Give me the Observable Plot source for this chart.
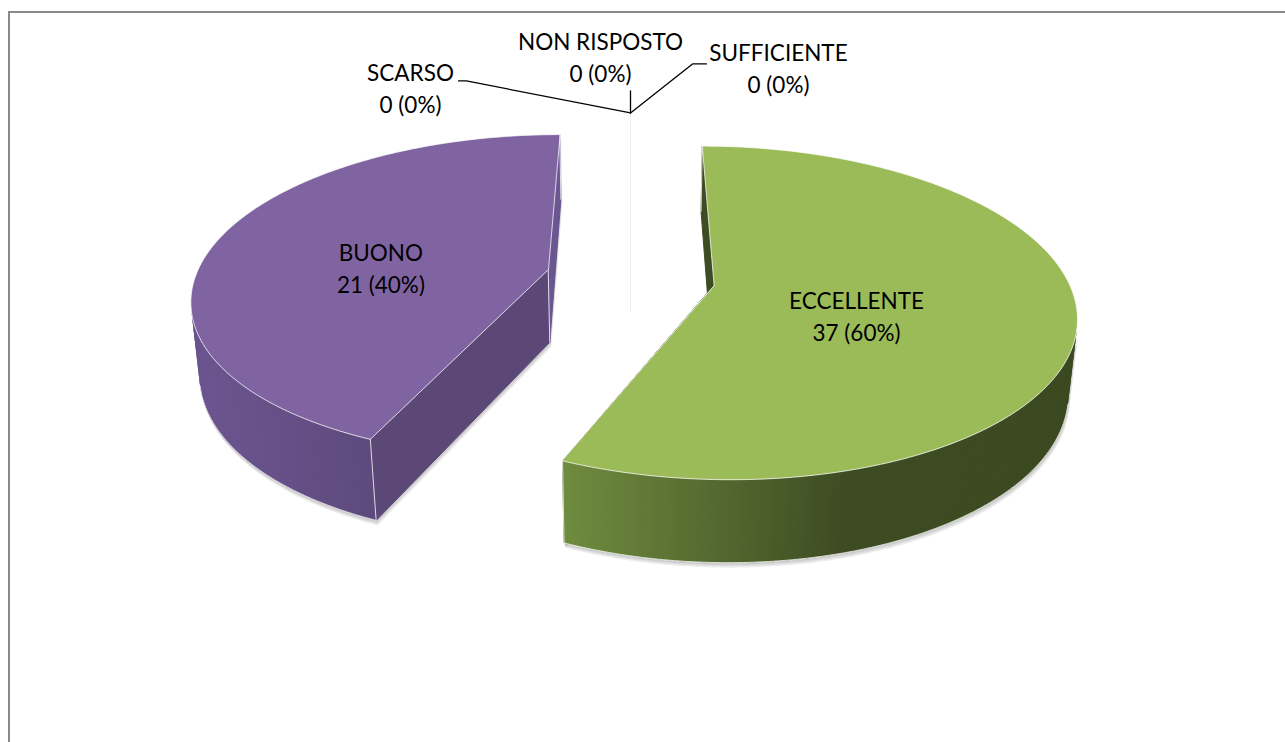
<!DOCTYPE html>
<html><head><meta charset="utf-8">
<script src="https://cdn.jsdelivr.net/npm/d3@7"></script>
<script src="https://cdn.jsdelivr.net/npm/@observablehq/plot@0.6"></script>
<style>
html,body{margin:0;padding:0;background:#fff;overflow:hidden;}
#wrap{position:relative;width:1285px;height:742px;overflow:hidden;background:#fff;}
#chart{position:absolute;left:0;top:0;}
#frame{position:absolute;left:8px;top:11px;width:1400px;height:900px;border:2px solid #898989;box-sizing:border-box;pointer-events:none;}
</style></head><body>
<div id="wrap"><div id="chart"></div><div id="frame"></div></div>
<script>
// ---- data ----
const categories = ["ECCELLENTE", "BUONO", "NON RISPOSTO", "SCARSO", "SUFFICIENTE"];
const counts = [37, 21, 0, 0, 0];
const percentLabels = ["60%", "40%", "0%", "0%", "0%"];
const sliceShares = [56.5, 43.5, 0, 0, 0]; // slice sizes as drawn in the picture

// ---- styles ----
const topColors = ["#9BBB59", "#8064A2", "#f2f2f2", "#f2f2f2", "#f2f2f2"];
const sideStops = [
  [[0, "#6F8C3F"], [0.55, "#3E4C23"], [1, "#3C4A22"]],
  [[0, "#6C5691"], [0.5, "#5D4A7C"], [1, "#5D4A7C"]],
  null, null, null
];
const wallColors = [["#3E4C23", "#3E4C23"], ["#5C4877", "#6A5690"], ["#f0f0f0","#f0f0f0"], ["#f0f0f0","#f0f0f0"], ["#f0f0f0","#f0f0f0"]];
const shadowOffsets = [2, 3.5, 5];

// ---- 3D view ----
const view = {cx: 630, cy: 277, focal: 1920, dist: 5.44, elev: 26.9 * Math.PI / 180, depth: 0.236, explode: 0.24};
const ce = Math.cos(view.elev), se = Math.sin(view.elev);
function project(X, Y, Z) {
  const d = Y * ce - Z * se + view.dist;
  const up = Y * se + Z * ce;
  return [view.cx + view.focal * X / d, view.cy - view.focal * up / d];
}
const TAU = 2 * Math.PI;
const total = d3.sum(sliceShares);
let cum = 0;
const slices = categories.map((name, i) => {
  const a0 = cum / total * TAU; cum += sliceShares[i]; const a1 = cum / total * TAU;
  const mid = (a0 + a1) / 2;
  return {i, name, a0, a1, mid, ox: view.explode * Math.sin(mid), oy: view.explode * Math.cos(mid)};
});
const rim = (s, t, z) => project(s.ox + Math.sin(t), s.oy + Math.cos(t), z);
const ctr = (s, z) => project(s.ox, s.oy, z);
// does the outer side at angle t face the camera?
const faces = (s, t) => -(s.ox + Math.sin(t)) * Math.sin(t) - (view.dist * ce + s.oy + Math.cos(t)) * Math.cos(t) > 0;
const ZB = -view.depth;
const step = Math.PI / 360;

const tops = [], sides = [], bands = [], walls = [], outlines = [], shadows = [];
const push = (arr, id, pts, color) => pts.forEach(([x, y]) => arr.push({id, x, y, color}));

slices.forEach(s => {
  const n = Math.max(1, Math.ceil((s.a1 - s.a0) / step));
  const angles = d3.range(n + 1).map(k => s.a0 + (s.a1 - s.a0) * k / n);
  [s.a0, s.a1].forEach((t, w) => {
    const quad = [ctr(s, 0), rim(s, t, 0), rim(s, t, ZB), ctr(s, ZB)];
    push(walls, `w${s.i}-${w}`, quad, wallColors[s.i][w]);
    if (sliceShares[s.i] > 0) shadowOffsets.forEach((o, j) => push(shadows, `hw${s.i}-${w}-${j}`, quad.map(([x, y]) => [x + o * 0.3, y + o]), "#000"));
  });
  if (sliceShares[s.i] === 0) return;
  const xs = angles.map(t => rim(s, t, 0)[0]);
  const xmin = d3.min(xs), xmax = d3.max(xs);
  const st = sideStops[s.i];
  const shade = d3.scaleLinear().domain(st.map(d => d[0])).range(st.map(d => d[1])).interpolate(d3.interpolateRgb);
  const runs = [];
  let cur = null;
  for (let k = 0; k < n; k++) {
    const ok = faces(s, (angles[k] + angles[k + 1]) / 2);
    if (ok) { if (!cur) { cur = [k]; runs.push(cur); } cur.push(k + 1); }
    else cur = null;
  }
  runs.forEach((run, r) => {
    const topArc = run.map(k => rim(s, angles[k], 0));
    const botArc = run.map(k => rim(s, angles[k], ZB));
    const band = [...topArc, ...botArc.slice().reverse()];
    push(bands, `band${s.i}-${r}`, band, shade(0.5));
    shadowOffsets.forEach((o, j) => push(shadows, `hs${s.i}-${r}-${j}`, band.map(([x, y]) => [x + o * 0.3, y + o]), "#000"));
    for (let m = 0; m < run.length - 1; m++) {
      const ka = run[m], kb = run[Math.min(m + 2, run.length - 1)];
      const pa = rim(s, angles[ka], 0), pb = rim(s, angles[run[m + 1]], 0);
      const tmid = ((pa[0] + pb[0]) / 2 - xmin) / (xmax - xmin);
      push(sides, `s${s.i}-${r}-${m}`, [pa, rim(s, angles[kb], 0), rim(s, angles[kb], ZB), rim(s, angles[ka], ZB)], shade(tmid));
    }
    push(outlines, `b${s.i}-${r}`, botArc, "#fff");
  });
  push(outlines, `c${s.i}a`, [rim(s, s.a0, 0), rim(s, s.a0, ZB)], "#fff");
  push(outlines, `c${s.i}b`, [rim(s, s.a1, 0), rim(s, s.a1, ZB)], "#fff");
  push(outlines, `d${s.i}a`, [ctr(s, 0), ctr(s, ZB)], "#fff");
  push(tops, `t${s.i}`, [ctr(s, 0), ...angles.map(t => rim(s, t, 0))], topColors[s.i]);
});

// ---- labels ----
const labelLayout = [
  {r: 0.40, dy: 16}, {r: 0.50, dy: 13},
  {dx: -30, dy: -57.5, leader: [[0, -22]]},
  {dx: -220, dy: -26.5, leader: [[-164, -32], [-172, -32]]},
  {dx: 148, dy: -46, leader: [[62, -49], [76, -49]]}
];
const labels = [], leaders = [];
slices.forEach(s => {
  const L = labelLayout[s.i];
  const text = `${categories[s.i]}\n${counts[s.i]} (${percentLabels[s.i]})`;
  if (sliceShares[s.i] > 0) {
    const [x, y] = project(s.ox + L.r * Math.sin(s.mid), s.oy + L.r * Math.cos(s.mid), 0);
    labels.push({x, y: y + L.dy, text});
  } else {
    const [ax, ay] = rim(s, s.a1, 0);
    labels.push({x: ax + L.dx, y: ay + L.dy, text});
    [[0, 0], ...L.leader].forEach(([dx, dy]) => leaders.push({id: s.i, x: ax + dx, y: ay + dy}));
  }
});

const W = 1285, H = 742;
const chart = Plot.plot({
  width: W, height: H, margin: 0,
  x: {domain: [0, W], range: [0, W], axis: null},
  y: {domain: [0, H], range: [0, H], axis: null},
  color: {type: "identity"},
  marks: [
    Plot.line(shadows, {x: "x", y: "y", z: "id", fill: "#000", fillOpacity: 0.07, curve: "linear-closed"}),
    Plot.line(walls, {x: "x", y: "y", z: "id", fill: "color", stroke: "color", strokeWidth: 1, curve: "linear-closed"}),
    Plot.line(bands, {x: "x", y: "y", z: "id", fill: "color", curve: "linear-closed"}),
    Plot.line(sides, {x: "x", y: "y", z: "id", fill: "color", curve: "linear-closed"}),
    Plot.line(outlines, {x: "x", y: "y", z: "id", stroke: "#ffffff", strokeWidth: 1, strokeOpacity: 0.8}),
    Plot.line(tops, {x: "x", y: "y", z: "id", fill: "color", stroke: "#ffffff", strokeWidth: 1, strokeOpacity: 0.75, curve: "linear-closed"}),
    Plot.line(leaders, {x: "x", y: "y", z: "id", stroke: "#000", strokeWidth: 1.3}),
    Plot.text(labels, {x: "x", y: "y", text: "text", fontSize: 22.5, fontFamily: "Lato", lineHeight: 1.42, fill: "#000"})
  ]
});
document.getElementById("chart").appendChild(chart);
</script>
</body></html>
